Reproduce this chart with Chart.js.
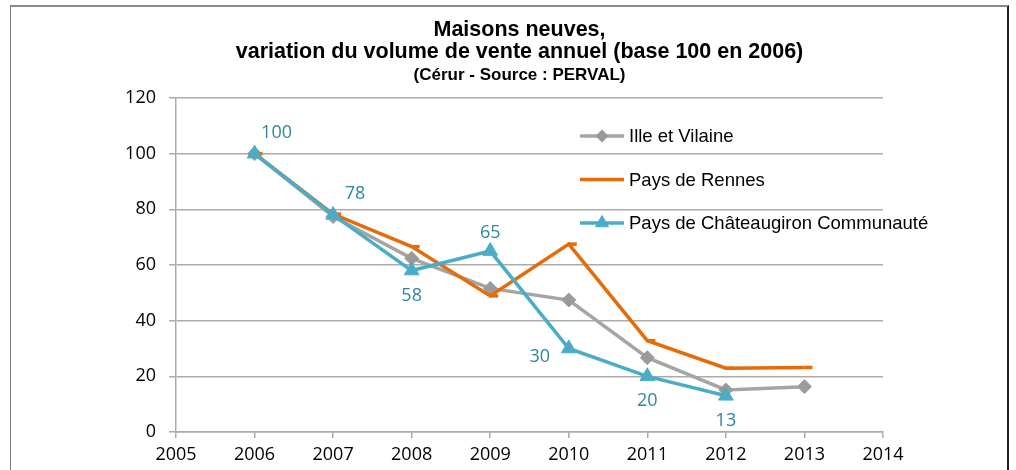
<!DOCTYPE html>
<html lang="fr">
<head>
<meta charset="utf-8">
<title>Maisons neuves - variation du volume de vente annuel</title>
<script src="https://cdn.jsdelivr.net/npm/chart.js@4.4.1/dist/chart.umd.min.js"></script>
<style>
  html, body { margin:0; padding:0; background:#fff; }
  #wrap { position:relative; width:1016px; height:470px; overflow:hidden; }
  #frame { position:absolute; left:10px; top:5px; width:996px; height:480px;
           border-top:2px solid #8a8a8a; border-left:1px solid #7a7a7a; border-right:2px solid #222; }
  canvas { position:absolute; left:0; top:0; }
</style>
</head>
<body>
<div id="wrap">
  <div id="frame"></div>
  <canvas id="chart" width="1016" height="470"></canvas>
</div>
<script>
(() => {
  'use strict';

  // === Données ===
  const ANNEES       = [2006, 2007, 2008, 2009, 2010, 2011, 2012, 2013];
  const ILLE_VILAINE = [100, 77.4, 62.4, 51.6, 47.4, 26.7, 15.1, 16.3];
  const PAYS_RENNES  = [100, 78.3, 66.6, 48.9, 67.5, 32.8, 22.9, 23.2];
  const CHATEAUGIRON = [100, 78, 58, 65, 30, 20, 13];          // 2006 -> 2012
  const X_MIN = 2005, X_MAX = 2014, X_STEP = 1;
  const Y_MIN = 0, Y_MAX = 120, Y_STEP = 20;

  const SERIES_NOMS = ["Ille et Vilaine", "Pays de Rennes", "Pays de Châteaugiron Communauté"];
  const TITRE = ["Maisons neuves,", "variation du volume de vente annuel (base 100 en 2006)"];
  const SOUS_TITRE = "(Cérur - Source : PERVAL)";

  // placement des étiquettes (style Excel) pour la série Châteaugiron
  const ETIQ_PLACEMENT = ["hautDroite", "hautDroite", "bas", "haut", "gauche", "bas", "bas"];
  const PLACEMENTS = {
    hautDroite: [22, -21], haut: [0, -18], bas: [0, 25], gauche: [-29, 8]
  };

  const GRIS = "#A5A5A5", ORANGE = "#E46C0A", BLEU = "#4BACC6", BLEU_TXT = "#31859C";
  const AXE = "#ABABAB";

  const pts = (xs, ys) => ys.map((y, i) => ({ x: xs[i], y }));

  // === Titre, légende et étiquettes ===
  const decor = {
    id: 'decor',
    afterDatasetsDraw(chart){
      const ctx = chart.ctx;
      const meta = chart.getDatasetMeta(2);
      ctx.save();
      ctx.font = "18px 'Open Sans'";
      ctx.fillStyle = BLEU_TXT;
      ctx.textAlign = "center";
      ctx.textBaseline = "middle";
      meta.data.forEach((p, i) => {
        const off = PLACEMENTS[ETIQ_PLACEMENT[i]] || [0, -18];
        ctx.fillText(String(Math.round(CHATEAUGIRON[i])), p.x + off[0], p.y + off[1]);
      });
      ctx.restore();
    },
    afterDraw(chart){
      const ctx = chart.ctx;
      const ca = chart.chartArea;
      ctx.save();
      // titre
      const cx = (ca.left + ca.right) / 2 - 10;
      ctx.fillStyle = "#000";
      ctx.textAlign = "center";
      ctx.textBaseline = "alphabetic";
      ctx.font = "bold 21.5px 'Liberation Sans', Arial";
      ctx.fillText(TITRE[0], cx, 36);
      ctx.fillText(TITRE[1], cx, 58);
      ctx.font = "bold 17px 'Liberation Sans', Arial";
      ctx.fillText(SOUS_TITRE, cx, 80);

      // légende
      const lx = ca.left + 404, lw = 44;
      const rows = [ca.top + 38, ca.top + 81.5, ca.top + 125];
      chart.data.datasets.forEach((ds, i) => {
        const y = rows[i];
        ctx.strokeStyle = ds.borderColor;
        ctx.lineWidth = ds.borderWidth;
        ctx.beginPath();
        ctx.moveTo(lx, y); ctx.lineTo(lx + lw, y);
        ctx.stroke();
        if(ds.pointStyle !== 'dash'){
          ctx.fillStyle = ds.pointBackgroundColor;
          ctx.strokeStyle = ds.pointBorderColor;
          ctx.lineWidth = 1;
          Chart.helpers.drawPoint(ctx, {
            pointStyle: ds.pointStyle, radius: ds.pointRadius - 1, rotation: 0, borderWidth: 1
          }, lx + lw / 2, y);
        }
        ctx.fillStyle = "#000";
        ctx.textAlign = "left";
        ctx.textBaseline = "middle";
        ctx.font = "18.5px 'Liberation Sans', Arial";
        ctx.fillText(ds.label, lx + lw + 5, y + 1);
      });
      ctx.restore();
    }
  };

  const tickFont = { family: "'Open Sans'", size: 18 };

  new Chart(document.getElementById("chart").getContext("2d"), {
    type: "line",
    data: {
      datasets: [
        {
          label: SERIES_NOMS[0], data: pts(ANNEES, ILLE_VILAINE),
          borderColor: GRIS, borderWidth: 3.5,
          pointStyle: "rectRot", pointRadius: 7,
          pointBackgroundColor: "#9B9B9B", pointBorderColor: "#9B9B9B", pointBorderWidth: 1,
          order: 3
        },
        {
          label: SERIES_NOMS[1], data: pts(ANNEES, PAYS_RENNES),
          borderColor: ORANGE, borderWidth: 3.5,
          pointStyle: "dash", pointRadius: 8,
          pointBackgroundColor: ORANGE, pointBorderColor: ORANGE, pointBorderWidth: 3.5,
          order: 2
        },
        {
          label: SERIES_NOMS[2], data: pts(ANNEES, CHATEAUGIRON),
          borderColor: BLEU, borderWidth: 3.5,
          pointStyle: "triangle", pointRadius: 8.5,
          pointBackgroundColor: BLEU, pointBorderColor: BLEU, pointBorderWidth: 1,
          order: 1
        }
      ]
    },
    options: {
      responsive: false,
      animation: false,
      events: [],
      layout: { padding: { left: 0, right: 133, top: 98, bottom: 0 } },
      plugins: { legend: { display: false }, tooltip: { enabled: false }, title: { display: false } },
      scales: {
        x: {
          type: "linear", min: X_MIN, max: X_MAX,
          ticks: { stepSize: X_STEP, autoSkip: false, font: tickFont, color: "#000", padding: 6,
                   callback: v => String(v) },
          grid: { drawOnChartArea: false, drawTicks: true, tickLength: 6, color: AXE, lineWidth: 1.5 },
          border: { color: AXE, width: 1.5 },
          afterFit(s){ s.height = 38; }
        },
        y: {
          min: Y_MIN, max: Y_MAX,
          ticks: { stepSize: Y_STEP, font: tickFont, color: "#000", padding: 13 },
          grid: { color: AXE, lineWidth: 1.5, tickLength: 7 },
          border: { color: AXE, width: 1.5 },
          afterFit(s){ s.width = 176; }
        }
      }
    },
    plugins: [decor]
  });
})();
</script>
</body>
</html>
